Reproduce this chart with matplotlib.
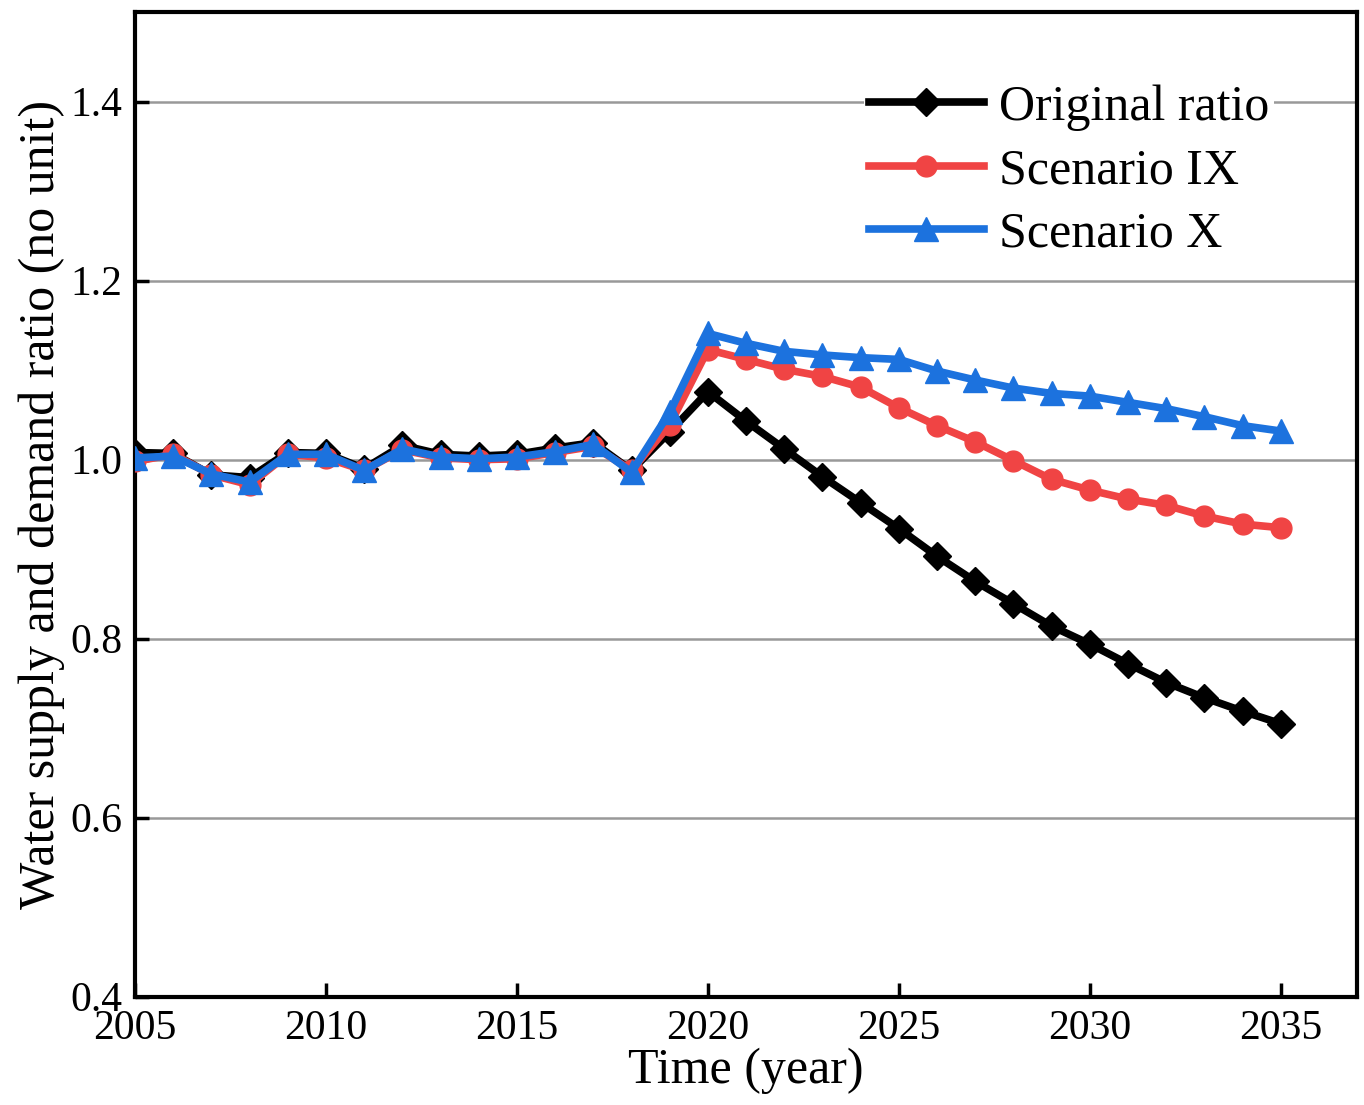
import numpy as np
import matplotlib
matplotlib.use("Agg")
import matplotlib.pyplot as plt

# %% data
years = list(range(2005, 2036))

original = [1.008, 1.007, 0.983, 0.980, 1.008, 1.007, 0.990, 1.016, 1.006, 1.004,
            1.006, 1.013, 1.019, 0.988, 1.031, 1.076, 1.043, 1.012, 0.981, 0.952,
            0.923, 0.892, 0.864, 0.839, 0.814, 0.794, 0.772, 0.751, 0.734, 0.719,
            0.705]
scen_ix = [0.998, 1.006, 0.983, 0.972, 1.006, 1.002, 0.988, 1.011, 1.002, 1.000,
           1.001, 1.008, 1.015, 0.988, 1.039, 1.123, 1.112, 1.101, 1.093, 1.081,
           1.058, 1.038, 1.020, 0.999, 0.978, 0.966, 0.956, 0.949, 0.937, 0.928,
           0.924]
scen_x = [1.002, 1.004, 0.984, 0.975, 1.006, 1.006, 0.988, 1.012, 1.003, 1.001,
          1.003, 1.009, 1.017, 0.986, 1.053, 1.141, 1.130, 1.121, 1.117, 1.114,
          1.112, 1.099, 1.089, 1.080, 1.074, 1.071, 1.064, 1.057, 1.048, 1.038,
          1.032]

labels = ["Original ratio", "Scenario IX", "Scenario X"]
xticks = [2005, 2010, 2015, 2020, 2025, 2030, 2035]
yticks = [0.4, 0.6, 0.8, 1.0, 1.2, 1.4]

# %% plot
plt.rcParams["font.family"] = ["Liberation Serif", "DejaVu Serif"]

fig = plt.figure(figsize=(13.64, 11.05), dpi=100)
ax = fig.add_axes([0.099, 0.098, 0.896, 0.891])

ax.plot(years, original, color="black", lw=5.5, marker="D", ms=14, label=labels[0], zorder=3)
ax.plot(years, scen_ix, color="#F04444", lw=5.5, marker="o", ms=15, label=labels[1], zorder=4)
ax.plot(years, scen_x, color="#1C72DE", lw=5.5, marker="^", ms=17, label=labels[2], zorder=5)

ax.set_xlim(2005, 2037)
ax.set_ylim(0.4, 1.5)
ax.set_xticks(xticks)
ax.set_yticks(yticks)
ax.set_yticklabels(["{:.1f}".format(v) for v in yticks])
ax.tick_params(direction="in", length=10, width=2.5, labelsize=30, pad=9)
ax.yaxis.grid(True, color="#999999", lw=1.8)
ax.set_axisbelow(True)
for s in ax.spines.values():
    s.set_linewidth(3)

ax.set_xlabel("Time (year)", fontsize=36, labelpad=0)
ax.set_ylabel("Water supply and demand ratio (no unit)", fontsize=36, labelpad=4)

leg = ax.legend(loc="upper right", bbox_to_anchor=(0.932, 0.932), fontsize=36,
                frameon=True, facecolor="white", edgecolor="none", framealpha=1,
                handlelength=2.3, handletextpad=0.3, labelspacing=0.34,
                borderpad=0.1, borderaxespad=0)

fig.savefig("out.png", dpi=100)
